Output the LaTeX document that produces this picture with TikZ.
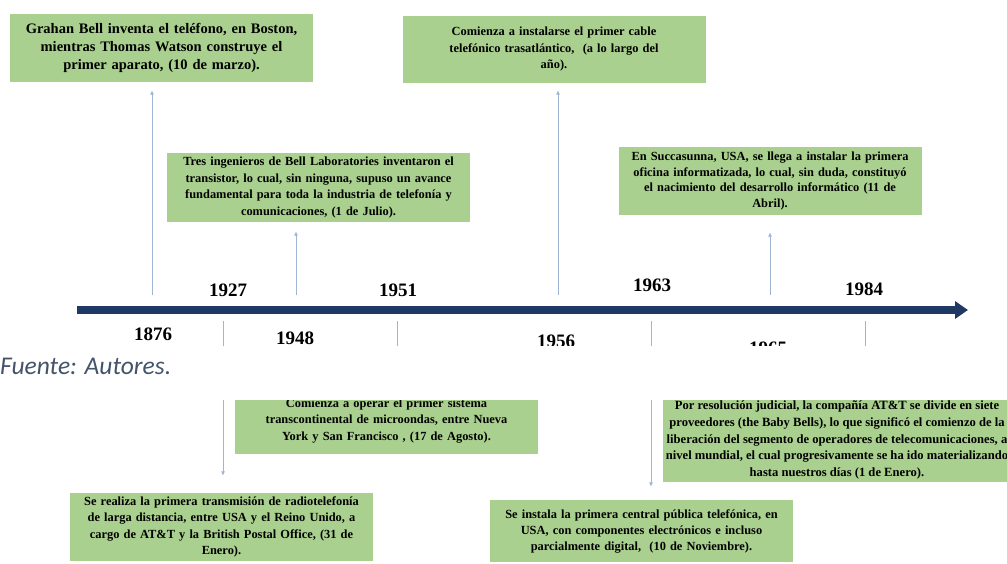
\documentclass[tikz,border=0pt]{standalone}
\usepackage{fontspec}
\setmainfont{Liberation Serif}
\newfontfamily\notefont{Carlito}
\usetikzlibrary{arrows.meta}

\definecolor{boxgreen}{RGB}{169,208,142}
\definecolor{linenavy}{RGB}{31,56,100}
\definecolor{linkblue}{RGB}{160,180,214}
\definecolor{notegray}{RGB}{68,84,106}

\begin{document}
\begin{tikzpicture}[x=1pt, y=-1pt,
  event/.style={fill=boxgreen, text width=292pt, inner xsep=5.5pt, inner ysep=0pt,
    align=center, font=\bfseries\fontsize{12.4}{16.5}\selectfont},
  year/.style={font=\bfseries\fontsize{19}{19}\selectfont, inner sep=0pt},
  link/.style={linkblue, line width=1pt, -{Latex[length=4.5pt,width=4pt]}},
  timeline/.style={linenavy, line width=8.5pt, -{Triangle[length=13pt,width=17pt]}}]

  \clip (0,0) rectangle (1007,563);

  % time axis
  \coordinate (t0) at (77,310);
  \coordinate (t1) at (968,310);
  \draw[timeline] (t0) -- (t1);

  \coordinate (e1876) at (152,295);
  \coordinate (e1948) at (296,295);
  \coordinate (e1956) at (558,295);
  \coordinate (e1965) at (770,295);
  \coordinate (e1927) at (223,321);
  \coordinate (e1951) at (397,321);
  \coordinate (e1963) at (651,321);
  \coordinate (e1984) at (865,321);

  \node[year] (y1927) at (228,290) {1927};
  \node[year] (y1951) at (398,290) {1951};
  \node[year] (y1963) at (652,285) {1963};
  \node[year] (y1984) at (864,289) {1984};
  \node[year] (y1876) at (153,334) {1876};
  \node[year] (y1948) at (295,338) {1948};
  \node[year] (y1956) at (556,341) {1956};
  \node[year] (y1965) at (768,348) {1965};

  % events above the axis
  \node[event, minimum height=68pt, font=\bfseries\fontsize{14.5}{18}\selectfont] (b1876) at (161.5,48)
    {Grahan Bell inventa el teléfono, en Boston,\\ mientras Thomas Watson construye el\\ primer aparato, (10 de marzo).};
  \node[event, minimum height=69pt] (b1948) at (318.5,187.5)
    {Tres ingenieros de Bell Laboratories inventaron el\\ transistor, lo cual, sin ninguna, supuso un avance\\
     fundamental para toda la industria de telefonía y\\ comunicaciones, (1 de Julio).};
  \node[event, minimum height=67pt] (b1956) at (554,49.5)
    {Comienza a instalarse el primer cable\\ telefónico trasatlántico,\ \ (a lo largo del\\ año).};
  \node[event, minimum height=68pt, font=\bfseries\fontsize{12.4}{15.5}\selectfont] (b1965) at (770,181)
    {En Succasunna, USA, se llega a instalar la primera\\ oficina informatizada, lo cual, sin duda, constituyó\\
     el nacimiento del desarrollo informático (11 de\\ Abril).};

  % events below the axis
  \node[event, minimum height=65pt] (b1951) at (386.5,421)
    {Comienza a operar el primer sistema\\ transcontinental de microondas, entre Nueva\\ York y San Francisco , (17 de Agosto).};
  \node[event, minimum height=84pt, text width=, minimum width=348pt, inner xsep=0pt, font=\bfseries\fontsize{12.6}{16.8}\selectfont] (b1984) at (837,440)
    {Por resolución judicial, la compañía AT\&T se divide en siete\\ proveedores (the Baby Bells), lo que significó el comienzo de la\\
     liberación del segmento de operadores de telecomunicaciones, a\\ nivel mundial, el cual progresivamente se ha ido materializando\\
     hasta nuestros días (1 de Enero).};
  \node[event, minimum height=68pt] (b1927) at (221.5,527)
    {Se realiza la primera transmisión de radiotelefonía\\ de larga distancia, entre USA y el Reino Unido, a\\
     cargo de AT\&T y la British Postal Office, (31 de\\ Enero).};
  \node[event, minimum height=62pt, font=\bfseries\fontsize{12.4}{16}\selectfont] (b1963) at (641.5,531)
    {Se instala la primera central pública telefónica, en\\ USA, con componentes electrónicos e incluso\\ parcialmente digital,\ \ (10 de Noviembre).};

  \draw[link, shorten >=8pt] (e1876) -- (b1876.south -| e1876);
  \draw[link, shorten >=9pt] (e1948) -- (b1948.south -| e1948);
  \draw[link, shorten >=7pt] (e1956) -- (b1956.south -| e1956);
  \draw[link, shorten >=17pt] (e1965) -- (b1965.south -| e1965);
  \draw[link, shorten >=17pt] (e1927) -- (b1927.north -| e1927);
  \draw[link] (e1951) -- (b1951.north -| e1951);
  \draw[link, shorten >=13pt] (e1963) -- (b1963.north -| e1963);
  \draw[link] (e1984) -- (b1984.north -| e1984);

  % cut between the two halves
  \fill[white] (0,346) rectangle (1007,400);
  \node[anchor=west, inner sep=0pt, text=notegray, font=\notefont\itshape\fontsize{25.5}{25.5}\selectfont] (fuente) at (0,366) {Fuente: Autores.};
\end{tikzpicture}
\end{document}
